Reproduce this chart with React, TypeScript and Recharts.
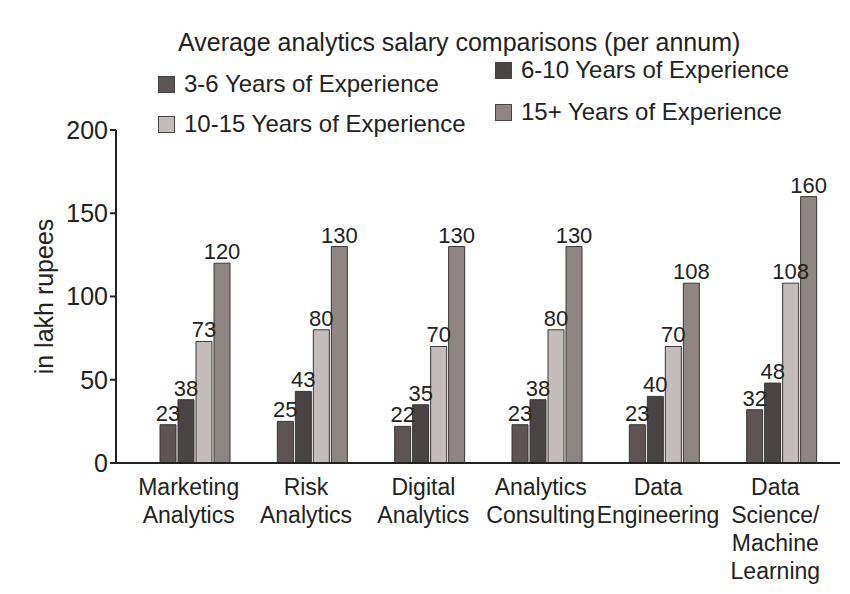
import React from 'react';
import { BarChart, Bar, XAxis, YAxis, Legend, LabelList } from 'recharts';

const categories = [
  'Marketing\nAnalytics',
  'Risk\nAnalytics',
  'Digital\nAnalytics',
  'Analytics\nConsulting',
  'Data\nEngineering',
  'Data\nScience/\nMachine\nLearning',
];
const exp3to6 = [23, 25, 22, 23, 23, 32];
const exp6to10 = [38, 43, 35, 38, 40, 48];
const exp10to15 = [73, 80, 70, 80, 70, 108];
const exp15plus = [120, 130, 130, 130, 108, 160];
const yTicks = [0, 50, 100, 150, 200];

const seriesNames = [
  '3-6 Years of Experience',
  '6-10 Years of Experience',
  '10-15 Years of Experience',
  '15+ Years of Experience',
];
const seriesColors = ['#5e5453', '#4a4444', '#c4bcba', '#8f8683'];

const data = categories.map((c, i) => ({
  name: c,
  s1: exp3to6[i],
  s2: exp6to10[i],
  s3: exp10to15[i],
  s4: exp15plus[i],
}));

const FONT = '"Liberation Sans", Arial, sans-serif';

const CatTick = (props: any) => {
  const { x, y, payload } = props;
  const lines = String(payload.value).split('\n');
  return (
    <g transform={`translate(${x},${y})`}>
      {lines.map((l: string, i: number) => (
        <text key={i} x={-6} y={24 + i * 28} textAnchor="middle" fontSize={23} fill="#222" fontFamily={FONT}>
          {l}
        </text>
      ))}
    </g>
  );
};

const LegendContent = () => {
  const item = (i: number, left: number, top: number) => (
    <div key={i} style={{ position: 'absolute', left, top, display: 'flex', alignItems: 'center', whiteSpace: 'nowrap' }}>
      <span style={{ display: 'inline-block', width: 15, height: 15, background: seriesColors[i], border: '1px solid #444', marginRight: 9 }} />
      <span style={{ fontSize: 24, color: '#222', fontFamily: FONT }}>{seriesNames[i]}</span>
    </div>
  );
  return (
    <div style={{ position: 'relative', width: 850, height: 130 }}>
      <div style={{ position: 'absolute', left: 178, top: 0, fontSize: 25, color: '#222', fontFamily: FONT, whiteSpace: 'nowrap' }}>
        Average analytics salary comparisons (per annum)
      </div>
      {item(0, 158, 42)}
      {item(1, 495, 28)}
      {item(2, 158, 82)}
      {item(3, 495, 70)}
    </div>
  );
};

export default function App() {
  return (
    <div style={{ position: 'absolute', left: 0, top: 0, background: '#fff' }}>
      <BarChart
        width={850}
        height={594}
        data={data}
        margin={{ top: 130, right: 10, bottom: 0, left: 0 }}
        barSize={16}
        barGap={2}
      >
        <Legend
          verticalAlign="middle"
          layout="horizontal"
          align="center"
          content={<LegendContent />}
          wrapperStyle={{ top: 28, left: 0, width: 850, height: 130 }}
        />
        <XAxis
          dataKey="name"
          tick={<CatTick />}
          tickLine={false}
          axisLine={{ stroke: '#222', strokeWidth: 2 }}
          height={131}
          interval={0}
          padding={{ left: 20, right: 0 }}
        />
        <YAxis
          domain={[0, 200]}
          ticks={yTicks}
          width={116}
          tick={{ fontSize: 25, fill: '#222', fontFamily: FONT }}
          tickSize={6}
          tickLine={{ stroke: '#222', strokeWidth: 2 }}
          axisLine={{ stroke: '#222', strokeWidth: 2 }}
          label={{
            value: 'in lakh rupees',
            angle: -90,
            position: 'insideLeft',
            offset: 44,
            style: { textAnchor: 'middle', fontSize: 25, fill: '#222', fontFamily: FONT },
          }}
        />
        {['s1', 's2', 's3', 's4'].map((k, i) => (
          <Bar key={k} dataKey={k} name={seriesNames[i]} fill={seriesColors[i]} stroke="#3a3434" strokeWidth={1} isAnimationActive={false}>
            <LabelList dataKey={k} position="top" offset={4} style={{ fontSize: 22, fill: '#222', fontFamily: FONT }} />
          </Bar>
        ))}
      </BarChart>
    </div>
  );
}
